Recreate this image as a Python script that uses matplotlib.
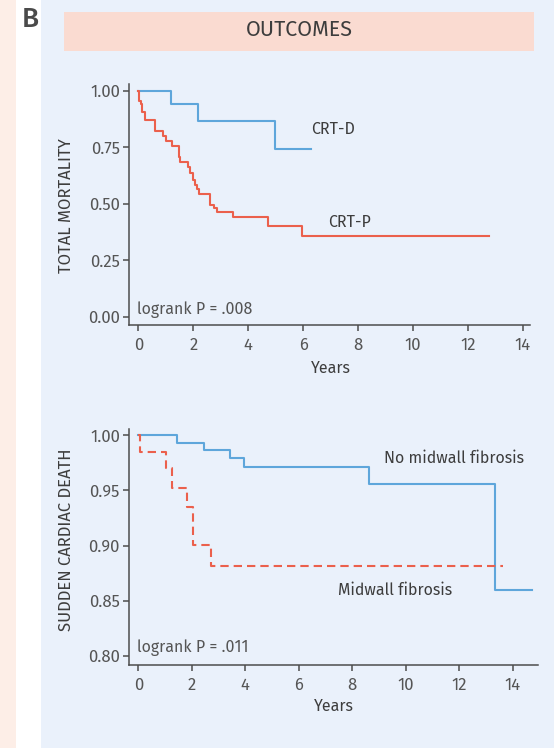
import matplotlib
matplotlib.use("Agg")
import matplotlib.pyplot as plt
from matplotlib.patches import Rectangle

# total mortality, CRT-D vs CRT-P (Kaplan-Meier steps)
crtd_t = [0, 1.19, 2.19, 4.98, 6.28]
crtd_s = [1.0, 0.944, 0.866, 0.742, 0.742]
crtp_t = [0, 0.03, 0.09, 0.15, 0.26, 0.61, 0.89, 1.01, 1.24, 1.47, 1.53, 1.80,
          1.88, 1.98, 2.06, 2.13, 2.20, 2.61, 2.77, 2.85, 3.44, 4.71, 5.95, 12.79]
crtp_s = [1.0, 0.957, 0.942, 0.909, 0.872, 0.824, 0.80, 0.779, 0.757, 0.71, 0.687, 0.662,
          0.639, 0.606, 0.584, 0.565, 0.543, 0.496, 0.481, 0.466, 0.441, 0.403, 0.36, 0.36]

# sudden cardiac death, midwall fibrosis vs none
nofib_t = [0, 1.43, 2.46, 3.43, 3.95, 8.64, 13.35, 14.71]
nofib_s = [1.0, 0.9934, 0.9867, 0.979, 0.9716, 0.956, 0.86, 0.86]
fib_t = [0, 0.06, 1.03, 1.27, 1.81, 2.06, 2.71, 13.65]
fib_s = [1.0, 0.9846, 0.9707, 0.952, 0.935, 0.9006, 0.8816, 0.8816]

xticks = [0, 2, 4, 6, 8, 10, 12, 14]
top_yticks = [0.0, 0.25, 0.5, 0.75, 1.0]
bot_yticks = [0.80, 0.85, 0.90, 0.95, 1.00]

BLUE = '#5ea6db'
RED = '#eb604c'
TXT = '#555555'
LAB = '#3d3d3d'
SPINE = '#4d4d4d'
FONT = 'Fira Sans'
FS = 11.5

W, H = 554, 748
fig = plt.figure(figsize=(W / 100, H / 100), dpi=100)

def px_rect(x0, y0, x1, y1, color):
	fig.patches.append(Rectangle((x0 / W, 1 - y1 / H), (x1 - x0) / W, (y1 - y0) / H,
		transform=fig.transFigure, color=color, zorder=-10, lw=0))

# panel backgrounds
px_rect(0, 0, 16, H, '#fdeee7')
px_rect(41, 0, W, H, '#eaf1fb')
px_rect(63.6, 12.4, 534, 50.5, '#fadbd1')
fig.text(299 / W, 1 - 29.5 / H, 'OUTCOMES', ha='center', va='center', fontsize=15.5,
	family=FONT, color=LAB)
fig.text(30 / W, 1 - 19 / H, 'B', ha='center', va='center', fontsize=20,
	family=FONT, weight='medium', color='#4a4a4a')

def style_axes(ax):
	ax.set_facecolor('none')
	for s in ['top', 'right']:
		ax.spines[s].set_visible(False)
	for s in ['left', 'bottom']:
		ax.spines[s].set_color(SPINE)
		ax.spines[s].set_linewidth(1.1)
	ax.tick_params(direction='out', length=4.3, width=1.1, color=SPINE,
		labelcolor=TXT, labelsize=12)
	ax.tick_params(axis='x', pad=4.5)
	ax.tick_params(axis='y', pad=2.5)
	for lab in ax.get_xticklabels() + ax.get_yticklabels():
		lab.set_family(FONT)

# top: total mortality
ax1 = fig.add_axes([129.3 / W, 1 - 325.3 / H, (530 - 129.3) / W, (325.3 - 84) / H])
ax1.step(crtd_t, crtd_s, where='post', color=BLUE, lw=1.5)
ax1.step(crtp_t, crtp_s, where='post', color=RED, lw=1.5)
ax1.set_xlim(-0.33, 14.27)
ax1.set_ylim(-0.037, 1.031)
ax1.set_xticks(xticks)
ax1.set_yticks(top_yticks)
ax1.set_yticklabels(['%.2f' % v for v in top_yticks])
style_axes(ax1)
ax1.text(6.28, 0.83, 'CRT-D', va='center', fontsize=FS, family=FONT, color=LAB)
ax1.text(6.91, 0.419, 'CRT-P', va='center', fontsize=FS, family=FONT, color=LAB)
ax1.text(-0.06, 0.034, 'logrank P = .008', va='center', fontsize=FS, family=FONT, color=TXT)
fig.text(331 / W, 1 - 368.3 / H, 'Years', ha='center', va='center', fontsize=FS,
	family=FONT, color=LAB)
fig.text(66.7 / W, 1 - 205.8 / H, 'TOTAL MORTALITY', ha='center', va='center', rotation=90,
	fontsize=12, family=FONT, color=LAB)

# bottom: sudden cardiac death
ax2 = fig.add_axes([129.3 / W, 1 - 665 / H, (538.3 - 129.3) / W, (665 - 429.3) / H])
ax2.step(nofib_t, nofib_s, where='post', color=BLUE, lw=1.5)
ax2.step(fib_t, fib_s, where='post', color=RED, lw=1.5, dashes=(4, 2.4))
ax2.set_xlim(-0.337, 14.96)
ax2.set_ylim(0.7918, 1.0054)
ax2.set_xticks(xticks)
ax2.set_yticks(bot_yticks)
ax2.set_yticklabels(['%.2f' % v for v in bot_yticks])
style_axes(ax2)
ax2.text(9.19, 0.9792, 'No midwall fibrosis', va='center', fontsize=FS, family=FONT, color=LAB)
ax2.text(7.46, 0.8592, 'Midwall fibrosis', va='center', fontsize=FS, family=FONT, color=LAB)
ax2.text(-0.06, 0.8073, 'logrank P = .011', va='center', fontsize=FS, family=FONT, color=TXT)
fig.text(334 / W, 1 - 706 / H, 'Years', ha='center', va='center', fontsize=FS,
	family=FONT, color=LAB)
fig.text(66.7 / W, 1 - 540 / H, 'SUDDEN CARDIAC DEATH', ha='center', va='center', rotation=90,
	fontsize=12, family=FONT, color=LAB)

plt.savefig('out.png', dpi=100)
plt.close()
